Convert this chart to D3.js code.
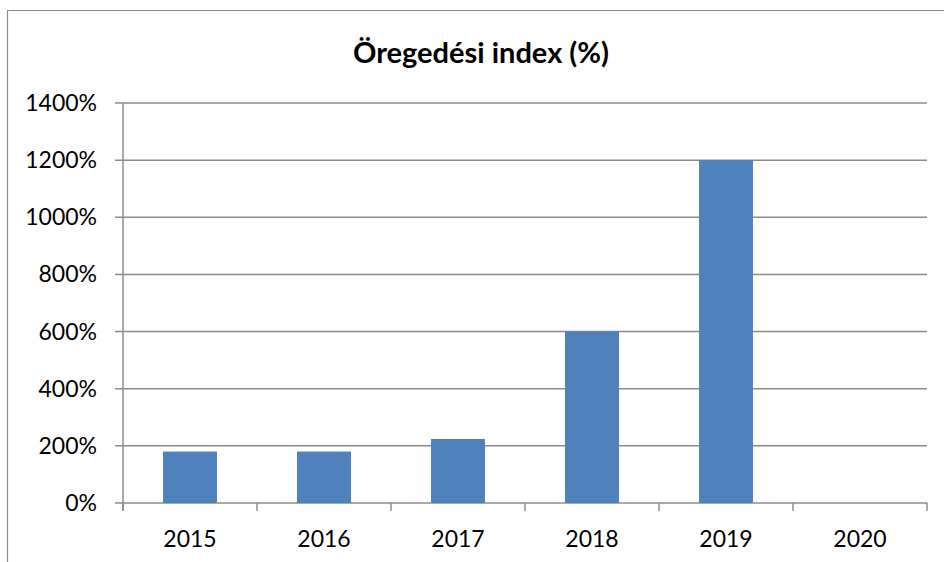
<!DOCTYPE html>
<html><head><meta charset="utf-8">
<script src="https://cdn.jsdelivr.net/npm/d3@7"></script>
<style>body{margin:0;background:#fff}svg{display:block}</style>
</head><body>
<script>
const categories = ["2015","2016","2017","2018","2019","2020"];
const values = [180, 180, 224, 600, 1200, 0];
const yTicks = [0,200,400,600,800,1000,1200,1400];
const title = "Öregedési index (%)";

(function(){
const W = 944, H = 562;
const svg = d3.select("body").append("svg").attr("width", W).attr("height", H);
const font = "Lato, 'Open Sans', sans-serif";

// outer frame
svg.append("path").attr("d", `M7.5,${H} V10.5 H${W}`).attr("fill","none").attr("stroke","#8c8c8c").attr("stroke-width",1.2);

const pLeft = 123, pRight = 927, pTop = 103, pBottom = 503;
const xb = d3.scaleBand().domain(categories).range([pLeft, pRight]);
const y = d3.scaleLinear().domain([0, 1400]).range([pBottom, pTop]);

// gridlines
svg.append("g").selectAll("line").data(yTicks).join("line")
  .attr("x1", pLeft - 8).attr("x2", pRight)
  .attr("y1", d => y(d)).attr("y2", d => y(d))
  .attr("stroke", "#8c8c8c").attr("stroke-width", 1.5);

// bars
svg.append("g").selectAll("rect").data(values).join("rect")
  .attr("x", (d,i) => xb(categories[i]) + (xb.bandwidth()-54)/2)
  .attr("width", 54)
  .attr("y", d => y(d)).attr("height", d => pBottom - y(d))
  .attr("fill", "#4f81bd");

// y axis line
svg.append("line").attr("x1", pLeft).attr("x2", pLeft).attr("y1", pTop).attr("y2", pBottom + 8)
  .attr("stroke", "#8c8c8c").attr("stroke-width", 1.5);

// x ticks
const xt = categories.map(c => xb(c)).concat([pRight]);
svg.append("g").selectAll("line").data(xt).join("line")
  .attr("x1", d => d).attr("x2", d => d).attr("y1", pBottom).attr("y2", pBottom + 8)
  .attr("stroke", "#8c8c8c").attr("stroke-width", 1.5);

// y labels
svg.append("g").selectAll("text").data(yTicks).join("text")
  .attr("x", 97).attr("y", d => y(d)).attr("dy", "0.35em")
  .attr("text-anchor", "end").attr("font-family", font).attr("font-size", 23).attr("fill", "#000")
  .text(d => d + "%");

// x labels
svg.append("g").selectAll("text").data(categories).join("text")
  .attr("x", d => xb(d) + xb.bandwidth()/2).attr("y", 547)
  .attr("text-anchor", "middle").attr("font-family", font).attr("font-size", 23).attr("fill", "#000")
  .text(d => d);

// title
svg.append("text").attr("x", 481).attr("y", 63).attr("text-anchor", "middle")
  .attr("font-family", font).attr("font-weight", "bold").attr("font-size", 29).attr("fill", "#000")
  .text(title);
})();
</script>
</body></html>
